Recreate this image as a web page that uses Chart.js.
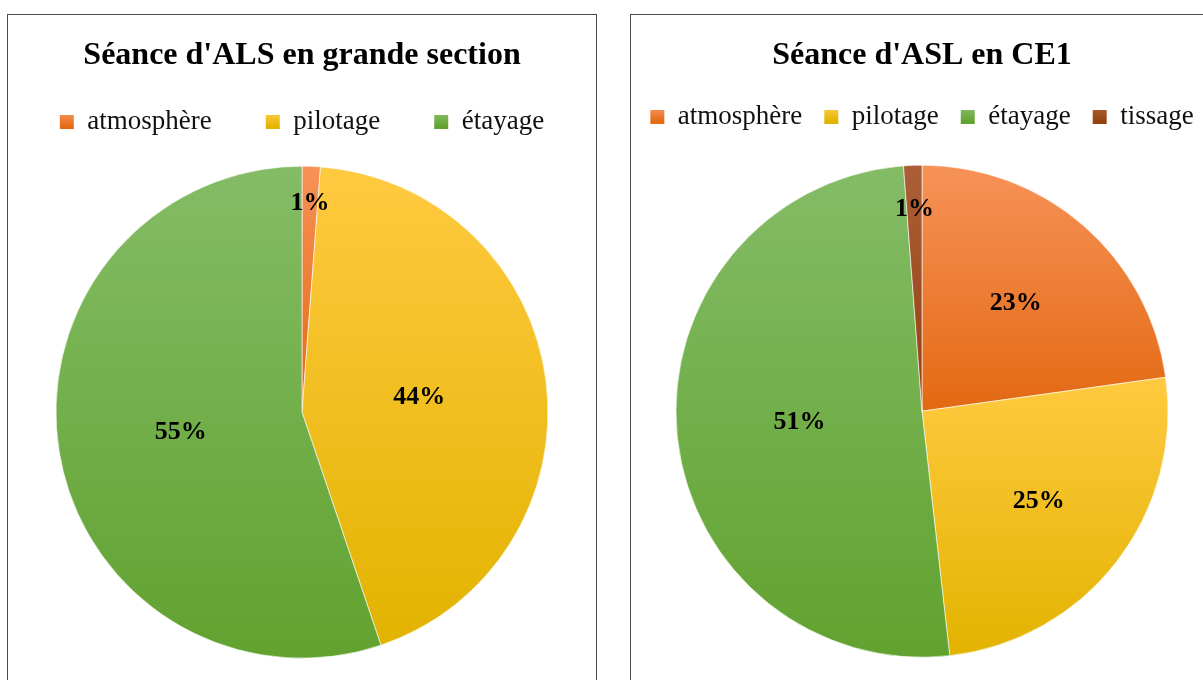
<!DOCTYPE html>
<html>
<head>
<meta charset="utf-8">
<script src="https://cdn.jsdelivr.net/npm/chart.js@4.4.1/dist/chart.umd.min.js"></script>
<style>
  body { margin: 0; background: #fff; width: 1203px; height: 680px; overflow: hidden; position: relative; }
  .box { position: absolute; top: 14px; border: 1px solid #4a4a4a; background: #fff; overflow: hidden; height: 720px; }
  .box canvas { position: absolute; top: 0; }
  #leftBox { left: 7px; width: 588px; }
  #leftBox canvas { left: -56px; }
  #rightBox { left: 630px; width: 582px; }
  #rightBox canvas { left: -59px; }
</style>
</head>
<body>
<div class="box" id="leftBox"><canvas id="leftChart" width="700" height="720"></canvas></div>
<div class="box" id="rightBox"><canvas id="rightChart" width="700" height="720"></canvas></div>
<script>
// Chart data
const leftTitle = "Séance d'ALS en grande section";
const leftCategories = ['atmosphère', 'pilotage', 'étayage'];
const leftValues = [1.2, 43.6, 55.2];

const rightTitle = "Séance d'ASL en CE1";
const rightCategories = ['atmosphère', 'pilotage', 'étayage', 'tissage'];
const rightValues = [22.8, 25.4, 50.6, 1.2];

// Gradient colours per category (top, bottom)
const sliceColors = {
    'atmosphère': ['#F79258', '#E36912'],
    'pilotage': ['#FFCA40', '#E2B300'],
    'étayage': ['#84BC66', '#61A22F'],
    'tissage': ['#AC5E38', '#93410E'],
};

const serif = '"Liberation Serif", "Times New Roman", serif';
const PIE_RADIUS = 246;

// Vertical extent of one slice, so each slice gets its own gradient (Office style)
const sliceExtent = (values, index, cy, r) => {
    const total = values.reduce((a, b) => a + b, 0);
    const before = values.slice(0, index).reduce((a, b) => a + b, 0);
    const a0 = 2 * Math.PI * before / total;
    const a1 = 2 * Math.PI * (before + values[index]) / total;
    // angles measured clockwise from 12 o'clock
    const ys = [cy, cy - r * Math.cos(a0), cy - r * Math.cos(a1)];
    if (a0 <= 0) ys.push(cy - r);
    if (a0 <= Math.PI && a1 >= Math.PI) ys.push(cy + r);
    return [Math.min(...ys), Math.max(...ys)];
};

const sliceFill = (context) => {
    const chart = context.chart;
    const colors = sliceColors[chart.data.labels[context.dataIndex]];
    const area = chart.chartArea;
    if (!area) return colors[1];
    const cy = (area.top + area.bottom) / 2;
    const [y0, y1] = sliceExtent(chart.data.datasets[0].data, context.dataIndex, cy, PIE_RADIUS);
    const g = chart.ctx.createLinearGradient(0, y0, 0, y1);
    g.addColorStop(0, colors[0]);
    g.addColorStop(1, colors[1]);
    return g;
};

// Draws the rounded percentage inside each slice
const percentLabels = {
    id: 'percentLabels',
    afterDatasetsDraw(chart, args, opts) {
        const ctx = chart.ctx;
        const meta = chart.getDatasetMeta(0);
        const data = chart.data.datasets[0].data;
        const total = data.reduce((a, b) => a + b, 0);
        ctx.save();
        ctx.font = 'bold 26px ' + serif;
        ctx.fillStyle = '#000';
        ctx.textAlign = 'center';
        ctx.textBaseline = 'middle';
        meta.data.forEach((arc, i) => {
            const p = arc.getProps(['x', 'y', 'startAngle', 'endAngle', 'outerRadius'], true);
            const mid = (p.startAngle + p.endAngle) / 2;
            const r = p.outerRadius * opts.radii[i];
            ctx.fillText(Math.round(data[i] / total * 100) + '%', p.x + Math.cos(mid) * r, p.y + Math.sin(mid) * r);
        });
        ctx.restore();
    }
};

const makePie = (id, title, categories, values, cfg) => new Chart(document.getElementById(id), {
    type: 'pie',
    data: {
        labels: categories,
        datasets: [{
            data: values,
            backgroundColor: sliceFill,
            borderColor: 'rgba(255,255,255,0.6)',
            borderWidth: 1,
            radius: PIE_RADIUS,
        }]
    },
    plugins: [percentLabels],
    options: {
        responsive: false,
        animation: false,
        layout: { padding: { top: 0, bottom: cfg.bottom, left: 0, right: 0 } },
        plugins: {
            title: {
                display: true,
                text: title,
                color: '#000',
                font: { family: serif, size: 32, weight: 'bold' },
                padding: { top: 22, bottom: cfg.titleBottom },
            },
            legend: {
                position: 'top',
                labels: {
                    color: '#111',
                    font: { family: serif, size: 27 },
                    boxWidth: 14,
                    boxHeight: 14,
                    padding: cfg.legendPadding,
                    generateLabels: (chart) => chart.data.labels.map((label, i) => {
                        const g = chart.ctx.createLinearGradient(0, cfg.legendY - 7, 0, cfg.legendY + 7);
                        g.addColorStop(0, sliceColors[label][0]);
                        g.addColorStop(1, sliceColors[label][1]);
                        return { text: label, fillStyle: g, strokeStyle: g, lineWidth: 0, index: i, hidden: false, fontColor: '#111' };
                    }),
                },
            },
            tooltip: { enabled: false },
            percentLabels: { radii: cfg.radii },
        }
    }
});

makePie('leftChart', leftTitle, leftCategories, leftValues,
    { bottom: 56, titleBottom: -21, legendPadding: 54, legendY: 105, radii: [0.85, 0.48, 0.5] });
makePie('rightChart', rightTitle, rightCategories, rightValues,
    { bottom: 53, titleBottom: 6, legendPadding: 22, legendY: 100, radii: [0.58, 0.6, 0.5, 0.82] });
</script>
</body>
</html>
